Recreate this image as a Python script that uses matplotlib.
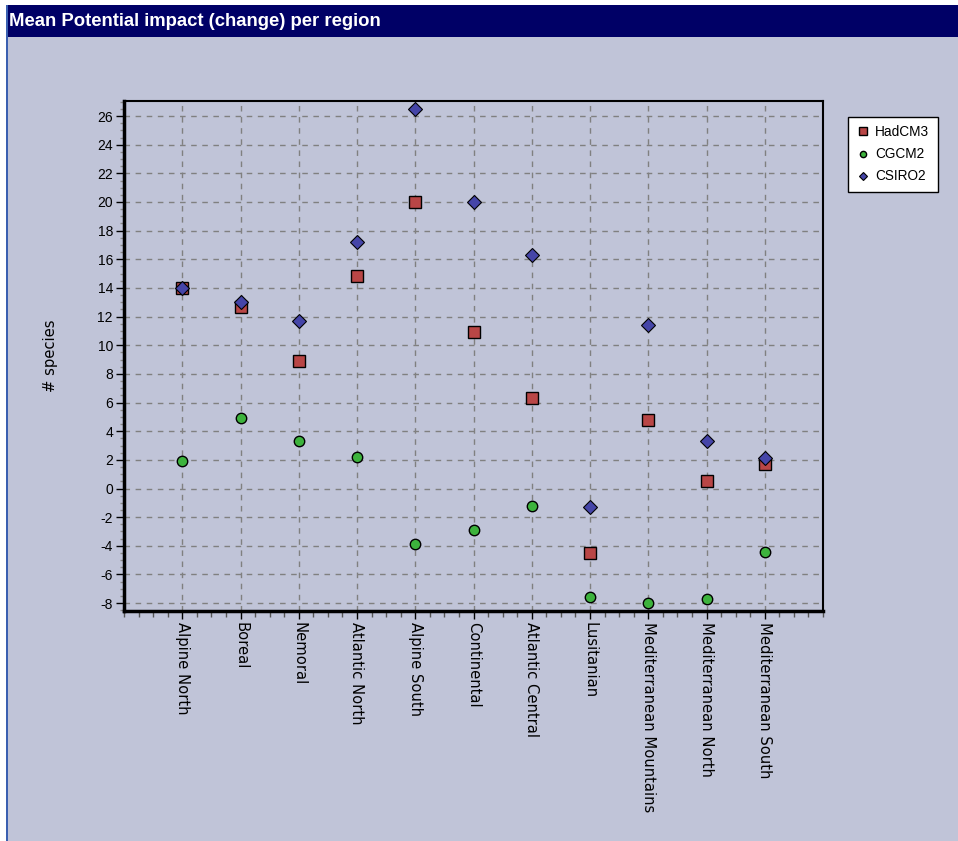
import matplotlib
matplotlib.use('Agg')
from matplotlib import pyplot as plt
from matplotlib.patches import Rectangle
from matplotlib.ticker import MultipleLocator

plt.rcParams['font.family'] = ['Liberation Sans', 'DejaVu Sans']

regions = ['Alpine North', 'Boreal', 'Nemoral', 'Atlantic North', 'Alpine South', 'Continental',
           'Atlantic Central', 'Lusitanian', 'Mediterranean Mountains', 'Mediterranean North',
           'Mediterranean South']
hadcm3 = [14.0, 12.7, 8.9, 14.8, 20.0, 10.9, 6.3, -4.5, 4.8, 0.5, 1.7]
cgcm2 = [1.9, 4.9, 3.3, 2.2, -3.9, -2.9, -1.2, -7.6, -8.0, -7.7, -4.4]
csiro2 = [14.0, 13.0, 11.7, 17.2, 26.5, 20.0, 16.3, -1.3, 11.4, 3.3, 2.1]
yticks = list(range(-8, 27, 2))

bg = '#C0C4D8'
fig = plt.figure(figsize=(9.58, 8.41), dpi=100)
fig.patch.set_facecolor('white')

# background panel, title bar, left border
fig.patches.append(Rectangle((7 / 958, 0), 1, 1 - 37 / 841, transform=fig.transFigure,
                             facecolor=bg, edgecolor='none', zorder=-3))
fig.patches.append(Rectangle((7 / 958, 1 - 37 / 841), 1, 32 / 841, transform=fig.transFigure,
                             facecolor='#000066', edgecolor='none', zorder=-2))
fig.patches.append(Rectangle((6 / 958, 0), 2 / 958, 1 - 5 / 841, transform=fig.transFigure,
                             facecolor='#3A5FB0', edgecolor='none', zorder=-1))
fig.text(9 / 958, 1 - 21 / 841, 'Mean Potential impact (change) per region', color='white',
         fontsize=13.3, fontweight='bold', va='center', ha='left')

ax = fig.add_axes([124 / 958, 1 - 611 / 841, 699 / 958, 510 / 841])
ax.set_facecolor(bg)
x = list(range(len(regions)))

ax.plot(x, hadcm3, 's', color='#B94646', markeredgecolor='black', markeredgewidth=1,
        markersize=9, label='HadCM3', zorder=3)
ax.plot(x, cgcm2, 'o', color='#3DB33D', markeredgecolor='black', markeredgewidth=1,
        markersize=7.5, label='CGCM2', zorder=3)
ax.plot(x, csiro2, 'D', color='#4545A8', markeredgecolor='black', markeredgewidth=0.8,
        markersize=7.3, label='CSIRO2', zorder=4)

ax.set_xlim(-1, 11)
ax.set_ylim(-8.55, 27.05)
ax.set_xticks(x)
ax.set_xticklabels(regions, rotation=270, fontsize=10.6, family='DejaVu Sans',
                   ha='center', va='top')
ax.set_yticks(yticks)
ax.set_yticklabels([str(t) for t in yticks], fontsize=10)
ax.xaxis.set_minor_locator(MultipleLocator(0.25))
ax.yaxis.set_minor_locator(MultipleLocator(0.5))
ax.tick_params(axis='x', which='major', length=6, width=1, pad=2)
ax.tick_params(axis='x', which='minor', length=4, width=1, color='#555555')
ax.tick_params(axis='y', which='major', length=6, width=1, pad=2)
ax.tick_params(axis='y', which='minor', length=3, width=1, color='#888888')

ax.grid(True, color='#808080', linestyle=(0, (4, 4)), linewidth=1)
ax.set_axisbelow(True)

ax.spines['left'].set_linewidth(2.5)
ax.spines['bottom'].set_linewidth(2.5)
ax.spines['top'].set_linewidth(1.5)
ax.spines['right'].set_linewidth(1.5)

ax.set_ylabel('# species', fontsize=10.6, family='DejaVu Sans', labelpad=28)

leg = ax.legend(loc='upper left', bbox_to_anchor=(848 / 958, 1 - 117 / 841), bbox_transform=fig.transFigure,
                fontsize=9.8, frameon=True, fancybox=False, borderaxespad=0, handletextpad=0.4,
                handlelength=1.0, borderpad=0.6, labelspacing=0.6, markerscale=0.6)
leg.get_frame().set_edgecolor('black')
leg.get_frame().set_facecolor('white')
leg.get_frame().set_alpha(1)

plt.savefig('out.png', dpi=100, facecolor=fig.get_facecolor())
